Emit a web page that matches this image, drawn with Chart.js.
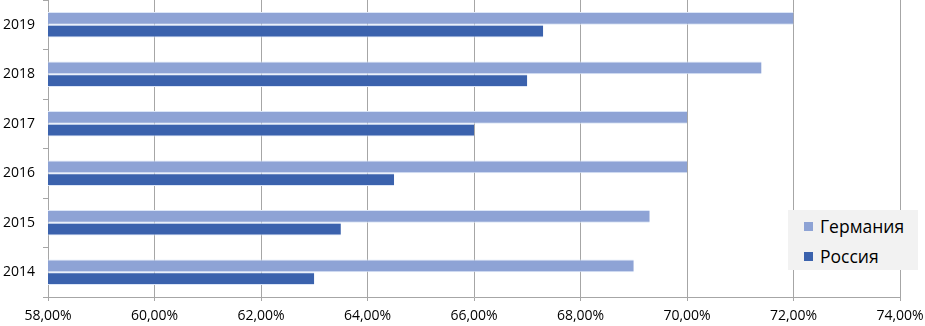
<!DOCTYPE html>
<html>
<head>
<meta charset="utf-8">
<script src="https://cdn.jsdelivr.net/npm/chart.js@4"></script>
<style>
  html, body { margin: 0; padding: 0; background: #fff; }
  #wrap { position: relative; width: 925px; height: 326px; }
  #legend {
    position: absolute; left: 788px; top: 210px; width: 130px; height: 60px;
    background: #f2f2f2; font-family: "Open Sans", sans-serif; font-size: 17.5px; color: #000;
    box-sizing: border-box; padding: 2px 0 0 16px;
  }
  #legend div { height: 30px; line-height: 28px; }
  #legend span.box { display: inline-block; width: 9px; height: 9px; margin-right: 7px; vertical-align: 2px; }
</style>
</head>
<body>
<div id="wrap">
  <canvas id="chart" width="925" height="326"></canvas>
  <div id="legend"></div>
</div>
<script>
// categories, top to bottom as shown
const years = ["2019", "2018", "2017", "2016", "2015", "2014"];
const germany = [72.0, 71.4, 70.0, 70.0, 69.3, 69.0];
const russia = [67.3, 67.0, 66.0, 64.5, 63.5, 63.0];
const seriesNames = ["Германия", "Россия"];
const seriesColors = ["#8ea3d5", "#3b62ad"];

const gridColor = "#a6a6a6";
const font = { family: "'Open Sans', sans-serif", size: 14 };

const ctx = document.getElementById("chart").getContext("2d");

const chart = new Chart(ctx, {
  type: "bar",
  data: {
    labels: years,
    datasets: [
      {
        label: seriesNames[0],
        data: germany,
        backgroundColor: seriesColors[0],
        borderColor: "#dce6f7",
        borderWidth: { top: 1, bottom: 1, right: 0, left: 0 },
      },
      {
        label: seriesNames[1],
        data: russia,
        backgroundColor: seriesColors[1],
        borderColor: "#dce6f7",
        borderWidth: { top: 1, bottom: 1, right: 0, left: 0 },
      },
    ],
  },
  options: {
    indexAxis: "y",
    responsive: false,
    animation: false,
    layout: { padding: 0 },
    datasets: {
      bar: { categoryPercentage: 0.52, barPercentage: 1.0 },
    },
    plugins: {
      legend: { display: false },
      tooltip: { enabled: false },
    },
    scales: {
      x: {
        min: 58,
        max: 74,
        ticks: {
          stepSize: 2,
          color: "#000",
          font: font,
          padding: 7,
          callback: (v) => v.toFixed(2).replace(".", ",") + "%",
        },
        grid: { color: gridColor, tickLength: 4 },
        border: { color: gridColor },
        afterFit: (scale) => {
          scale.height = 29;
          scale.paddingLeft = 0;
          scale.paddingRight = 25;
        },
      },
      y: {
        ticks: { color: "#000", font: font, padding: 8 },
        grid: { drawOnChartArea: false, color: gridColor, tickLength: 5 },
        border: { color: gridColor },
        afterFit: (scale) => {
          scale.width = 48;
          scale.paddingTop = 0;
          scale.paddingBottom = 0;
        },
      },
    },
  },
});

// legend built from the datasets
const legendEl = document.getElementById("legend");
chart.data.datasets.forEach((ds) => {
  const row = document.createElement("div");
  row.innerHTML = '<span class="box" style="background:' + ds.backgroundColor + '"></span>' + ds.label;
  legendEl.appendChild(row);
});
</script>
</body>
</html>
